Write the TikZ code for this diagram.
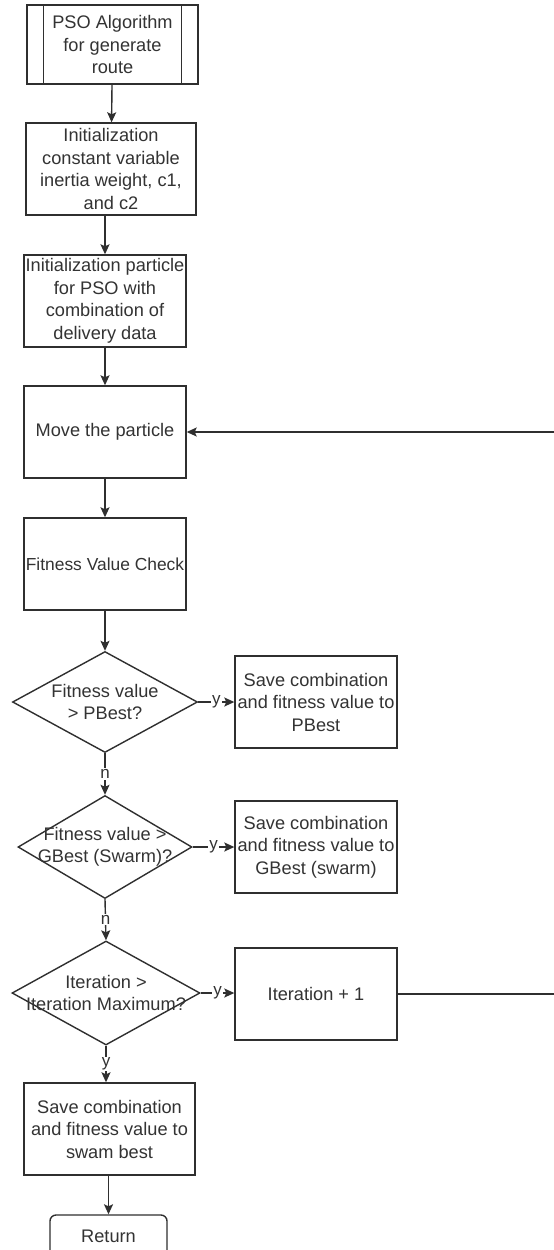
\documentclass[tikz,border=0pt]{standalone}
\usepackage{fontspec}
\setmainfont{Liberation Sans}
\usetikzlibrary{shapes.geometric,arrows.meta}
\definecolor{ln}{HTML}{2F2F2F}
\definecolor{txt}{HTML}{333333}
\begin{document}
\begin{tikzpicture}[x=1pt,y=-1pt,
  every node/.style={text=txt, font=\fontsize{18.2}{22.5}\selectfont},
  box/.style={draw=ln, line width=1.4pt, fill=white, align=center, inner sep=0pt},
  dia/.style={draw=ln, line width=1.4pt, diamond, inner sep=0pt},
  arr/.style={draw=ln, line width=1.4pt, -{Stealth[length=10pt,width=9pt,inset=2pt]}},
  con/.style={draw=ln, line width=1.4pt},
  lbl/.style={fill=white, inner sep=1pt, font=\fontsize{17}{19}\selectfont},
]
\useasboundingbox (0,0) rectangle (554,1250);
\fill[white] (0,0) rectangle (554,1250);

\node[box, minimum width=171pt, minimum height=79pt] (pso) at (112.5,44.5) {PSO Algorithm\\for generate\\route};
\draw[con] ([xshift=17pt]pso.north west) -- ([xshift=17pt]pso.south west);
\draw[con] ([xshift=-17pt]pso.north east) -- ([xshift=-17pt]pso.south east);

\node[box, minimum width=170pt, minimum height=92pt] (init) at (111,169) {Initialization\\constant variable\\inertia weight, c1,\\and c2};
\node[box, minimum width=162pt, minimum height=92pt] (part) at (105,301) {Initialization particle\\for PSO with\\combination of\\delivery data};
\node[box, minimum width=162pt, minimum height=92pt] (move) at (105,432) {Move the particle};
\node[box, minimum width=162pt, minimum height=92pt, font=\fontsize{17.4}{22.5}\selectfont] (fit) at (105,564) {\makebox[0pt][c]{Fitness Value Check}};

\node[dia, minimum width=185pt, minimum height=101pt] (d1) at (105,702) {};
\node[align=center] (d1t) at (d1) {Fitness value\\> PBest?};
\node[box, minimum width=162pt, minimum height=92pt] (s1) at (316,702) {Save combination\\and fitness value to\\PBest};

\node[dia, minimum width=174pt, minimum height=103pt] (d2) at (105,847) {};
\node[align=center] (d2t) at (d2) {Fitness value >\\GBest (Swarm)?};
\node[box, minimum width=162pt, minimum height=92pt] (s2) at (316,847) {Save combination\\and fitness value to\\GBest (swarm)};

\node[dia, minimum width=188pt, minimum height=104pt] (d3) at (106,993) {};
\node[align=center] (d3t) at (d3) {Iteration >\\Iteration Maximum?};
\node[box, minimum width=162pt, minimum height=92pt] (it) at (316,994) {Iteration + 1};

\node[box, minimum width=171pt, minimum height=92pt] (s3) at (109.5,1129) {Save combination\\and fitness value to\\swam best};
\node[box, rounded corners=6pt, minimum width=117pt, minimum height=42pt] (ret) at (108.5,1236) {Return};

\coordinate (r1) at (554,994);
\coordinate (r2) at (554,432);

\draw[arr] (pso) -- (init);
\draw[arr] (init.south -| part.north) -- (part);
\draw[arr] (part) -- (move);
\draw[arr] (move) -- (fit);
\draw[arr] (fit) -- (d1);
\draw[arr] (d1.east) -- node[lbl]{y} (s1.west);
\draw[arr] (d1.south) -- node[lbl]{n} (d2.north);
\draw[arr] (d2.east) -- node[lbl]{y} (s2.west);
\draw[arr] (d2.south) -- node[lbl]{n} (d3.north);
\draw[arr] (d3.east) -- node[lbl]{y} (d3.east -| it.west);
\draw[arr] (d3.south) -- node[lbl]{y} (d3.south |- s3.north);
\draw[arr] (s3.south -| ret.north) -- (ret);
\draw[con] (it.east) -- (r1);
\draw[arr] (r2) -- (move.east);
\end{tikzpicture}
\end{document}
